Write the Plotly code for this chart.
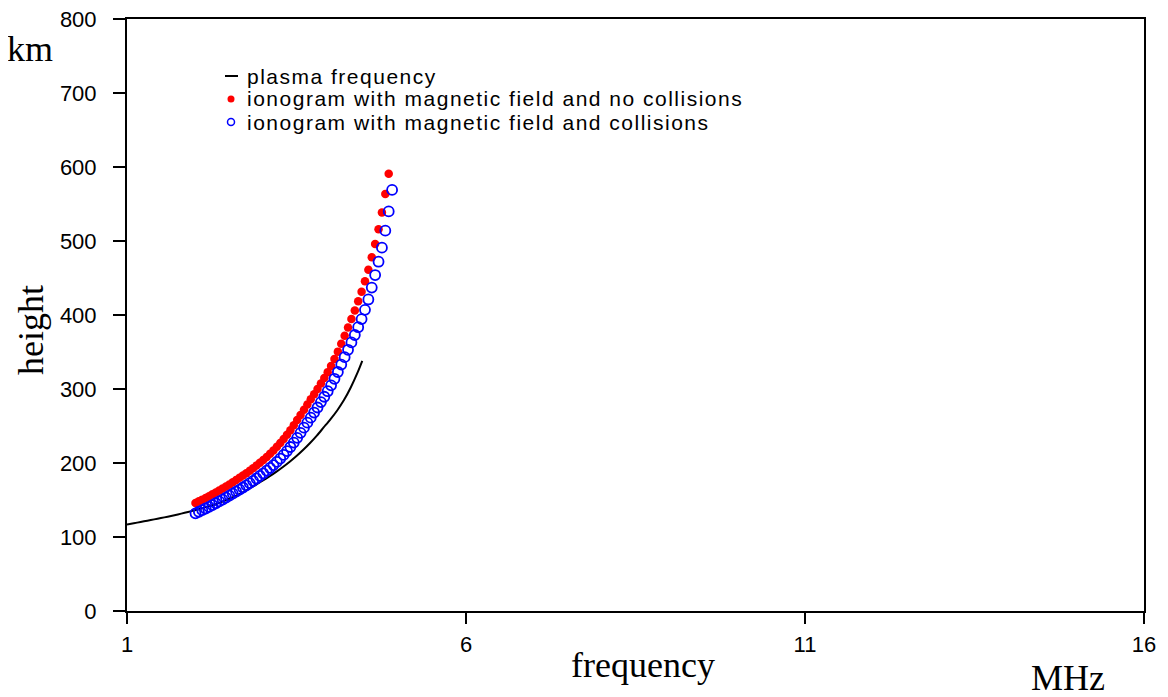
import plotly.graph_objects as go

# ---------------- data ----------------
plasma_freq = [1.0, 1.1, 1.2, 1.3, 1.4, 1.5, 1.6, 1.7, 1.8, 1.9, 2.0, 2.1, 2.2, 2.3,
               2.4, 2.5, 2.6, 2.7, 2.8, 2.9, 3.0, 3.1, 3.2, 3.3, 3.4, 3.5, 3.6, 3.7,
               3.8, 3.9, 4.0, 4.1, 4.2, 4.3, 4.4, 4.47]
plasma_height = [117, 118.6, 120.3, 122, 123.8, 125.6, 127.5, 129.5, 131.6, 133.8, 136.1,
                 138.6, 141.3, 144, 147.5, 151.3, 155.5, 160.1, 165.1, 170.5, 176,
                 181.8, 188, 194.6, 201.7, 209.4, 217.8, 227, 237, 248, 259, 271,
                 285, 302, 322, 338]

nocoll_freq = [2.01, 2.06, 2.11, 2.16, 2.21, 2.26, 2.31, 2.36, 2.41, 2.46, 2.51,
               2.56, 2.61, 2.66, 2.71, 2.76, 2.81, 2.86, 2.91, 2.96, 3.01,
               3.06, 3.11, 3.16, 3.21, 3.26, 3.31, 3.36, 3.41, 3.46, 3.51,
               3.56, 3.61, 3.66, 3.71, 3.76, 3.81, 3.86, 3.91, 3.96, 4.01,
               4.06, 4.11, 4.16, 4.21, 4.26, 4.31, 4.36, 4.41, 4.46, 4.51,
               4.56, 4.61, 4.66, 4.71, 4.76, 4.81, 4.86]
nocoll_height = [146, 148.2, 150.5, 152.8, 155.2, 157.7, 160.2, 162.8, 165.4, 168.1, 171,
                 173.9, 176.9, 180, 183.1, 186.3, 189.6, 193, 196.5, 200.2, 204,
                 208.2, 212.5, 217, 221.9, 227, 232.5, 238.3, 244.4, 251, 258,
                 265, 272, 279, 286, 293, 300, 307.5, 315, 322.8, 331,
                 340.5, 350.5, 361, 372, 383.2, 394.5, 406, 418.5, 431.5, 445.5,
                 461, 478, 496, 516, 538.5, 563.5, 591]

coll_freq = [2.01, 2.06, 2.11, 2.16, 2.21, 2.26, 2.31, 2.36, 2.41, 2.46, 2.51,
             2.56, 2.61, 2.66, 2.71, 2.76, 2.81, 2.86, 2.91, 2.96, 3.01,
             3.06, 3.11, 3.16, 3.21, 3.26, 3.31, 3.36, 3.41, 3.46, 3.51,
             3.56, 3.61, 3.66, 3.71, 3.76, 3.81, 3.86, 3.91, 3.96, 4.01,
             4.06, 4.11, 4.16, 4.21, 4.26, 4.31, 4.36, 4.41, 4.46, 4.51,
             4.56, 4.61, 4.66, 4.71, 4.76, 4.81, 4.86, 4.91]
coll_height = [132, 134.1, 136.3, 138.5, 140.8, 143.2, 145.6, 148.1, 150.6, 153.2, 156,
               158.6, 161.3, 164.1, 166.9, 169.8, 172.8, 175.9, 179.1, 182.5, 186,
               189.6, 193.3, 197.2, 201.5, 206, 210.9, 216.1, 221.6, 227.6, 234,
               240.8, 247.7, 254.5, 261.3, 268.2, 275, 282.3, 289.5, 297, 305,
               313.8, 323, 333, 343, 353, 363, 373, 383.5, 394.5, 407,
               421, 437, 454, 472, 491, 514, 540, 569]

legend_labels = ["plasma frequency",
                 "ionogram with magnetic field and no collisions",
                 "ionogram with magnetic field and collisions"]
x_ticks = [1, 6, 11, 16]
y_ticks = [0, 100, 200, 300, 400, 500, 600, 700, 800]

# ---------------- layout helpers ----------------
# page is rendered with an 8px body margin, so work in page pixels and shift
OFF = 8
W, H = 1168 - OFF, 697 - OFF
L, R, T, B = 127, 1144, 19, 611          # plot area in page pixels
PW, PH = R - L, B - T


def px(x):
    return (x - L) / PW


def py(y):
    return (B - y) / PH


fig = go.Figure()
fig.add_trace(go.Scatter(x=plasma_freq, y=plasma_height, mode="lines",
                         line=dict(color="black", width=2, shape="spline",
                                   smoothing=0.8),
                         showlegend=False))
fig.add_trace(go.Scatter(x=nocoll_freq, y=nocoll_height, mode="markers",
                         marker=dict(color="#ff0000", size=8.5, line=dict(width=0)),
                         showlegend=False))
fig.add_trace(go.Scatter(x=coll_freq, y=coll_height, mode="markers",
                         marker=dict(symbol="circle-open", color="#0000ff", size=10,
                                     line=dict(width=1.8)),
                         showlegend=False))

tickfont = dict(family="Liberation Sans, Arial, sans-serif", size=22, color="black")
fig.update_xaxes(range=[1, 16], tickvals=x_ticks, ticks="outside", ticklen=11,
                 tickwidth=2, tickcolor="black", showline=True, linewidth=2,
                 linecolor="black", mirror=True, showgrid=False, zeroline=False,
                 tickfont=tickfont, ticklabelstandoff=2, automargin=False,
                 ticklabeloverflow="allow")
fig.update_yaxes(range=[0, 800], tickvals=y_ticks, ticks="outside", ticklen=12,
                 tickwidth=2, tickcolor="black", showline=True, linewidth=2,
                 linecolor="black", mirror=True, showgrid=False, zeroline=False,
                 tickfont=tickfont, ticklabelstandoff=12, automargin=False,
                 ticklabeloverflow="allow")

serif = dict(family="Liberation Serif, Times New Roman, serif", size=36, color="black")
anns = [
    dict(text="km", x=px(30), y=py(49), xanchor="center", yanchor="middle"),
    dict(text="height", x=px(31), y=py(330), xanchor="center", yanchor="middle",
         textangle=-90),
    dict(text="frequency", x=px(643), y=py(665), xanchor="center", yanchor="middle"),
    dict(text="MHz", x=px(1068), y=py(678), xanchor="center", yanchor="middle"),
]
for a in anns:
    fig.add_annotation(xref="paper", yref="paper", showarrow=False, font=serif, **a)

legfont = dict(family="Liberation Sans, Arial, sans-serif", size=21, color="black")
rows = [76, 99, 122]
for lab, yy in zip(legend_labels, rows):
    fig.add_annotation(xref="paper", yref="paper", showarrow=False, font=legfont,
                       text='<span style="letter-spacing:1.5px">' + lab + '</span>',
                       x=px(245), y=py(yy), xanchor="left", yanchor="middle")

# legend symbols
fig.add_shape(type="line", xref="paper", yref="paper",
              x0=px(225), x1=px(238), y0=py(76), y1=py(76),
              line=dict(color="black", width=2))
r = 3.5
fig.add_shape(type="circle", xref="paper", yref="paper",
              x0=px(231 - r), x1=px(231 + r), y0=py(99 - r), y1=py(99 + r),
              fillcolor="#ff0000", line=dict(color="#ff0000", width=0))
fig.add_shape(type="circle", xref="paper", yref="paper",
              x0=px(231 - r), x1=px(231 + r), y0=py(122 - r), y1=py(122 + r),
              line=dict(color="#0000ff", width=1.5))

fig.update_layout(width=W, height=H,
                  margin=dict(l=L - OFF, r=W - (R - OFF), t=T - OFF, b=H - (B - OFF),
                              autoexpand=False),
                  plot_bgcolor="white", paper_bgcolor="white", showlegend=False)

fig.write_html("out.html")
